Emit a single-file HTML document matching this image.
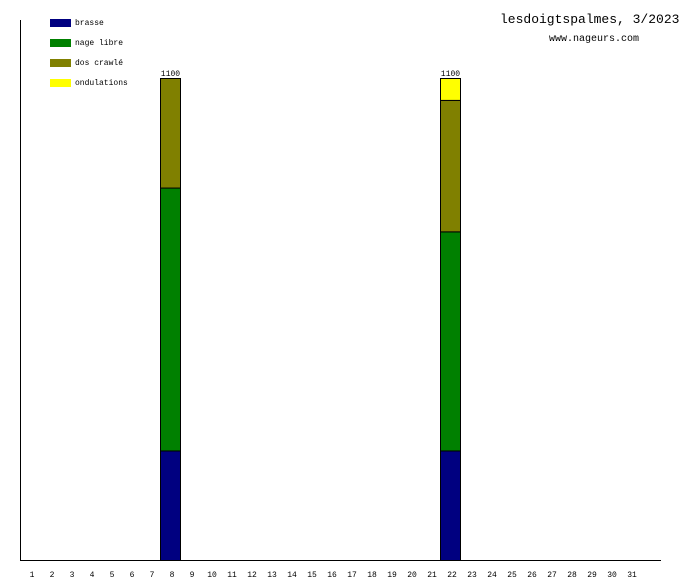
<!DOCTYPE html>
<html><head><meta charset="utf-8"><style>
body{margin:0;background:#fff}
svg text{font-family:"Liberation Mono","DejaVu Sans Mono",monospace}
</style></head><body>
<svg id="c" width="680" height="580" xmlns="http://www.w3.org/2000/svg">
<rect width="680" height="580" fill="#fff"/>
<text x="500" y="23" font-size="13">lesdoigtspalmes, 3/2023</text>
<text x="549" y="41" font-size="10">www.nageurs.com</text>
<line x1="20.5" y1="20" x2="20.5" y2="560" stroke="#000"/>
<line x1="20" y1="560.5" x2="661" y2="560.5" stroke="#000"/>
<g id="legend"></g><g id="bars"></g><g id="ticks"></g>
</svg>
<script>
const seriesNames=["brasse","nage libre","dos crawlé","ondulations"];
const seriesColors=["#000080","#008000","#808000","#ffff00"];
const days=[8,22];
const brasse=[250,250];
const nageLibre=[600,500];
const dosCrawle=[250,300];
const ondulations=[0,50];
const totals=[1100,1100];
const dayCount=31;
const NS="http://www.w3.org/2000/svg";
const svg=document.getElementById('c');
const x0=20,slot=20,yBase=560,pxPer=482/1100;
const xs=d=>x0+(d-1)*slot;
const ys=v=>yBase-v*pxPer;
function mk(t,a,p){const e=document.createElementNS(NS,t);for(const k in a)e.setAttribute(k,a[k]);p.appendChild(e);return e;}
const lg=document.getElementById('legend');
seriesNames.forEach((n,i)=>{
 const r=mk('rect',{x:50,y:19+i*20,width:21,height:8,fill:seriesColors[i]},lg);
 
 
 const t=mk('text',{x:75,y:25+i*20,'font-size':8},lg);t.textContent=n;
 
 
});
const bg=document.getElementById('bars');
const series=[brasse,nageLibre,dosCrawle,ondulations];
days.forEach((d,j)=>{
 let acc=0;
 series.forEach((s,i)=>{
  const v=s[j];if(!v)return;
  const r=mk('rect',{x:xs(d)+0.5,y:ys(acc+v)+0.5,width:20,height:ys(acc)-ys(acc+v),fill:seriesColors[i],stroke:'#000','stroke-width':1},bg);
  
  
  acc+=v;
 });
 const t=mk('text',{x:xs(d)+10.5,y:ys(totals[j])-2,'font-size':8,'text-anchor':'middle'},bg);t.textContent=totals[j];
 
 
});
const tg=document.getElementById('ticks');
for(let d=1;d<=dayCount;d++){
 const t=mk('text',{x:xs(d)+12,y:577,'font-size':8,'text-anchor':'middle'},tg);t.textContent=d;
 
 
}
</script>
</body></html>
